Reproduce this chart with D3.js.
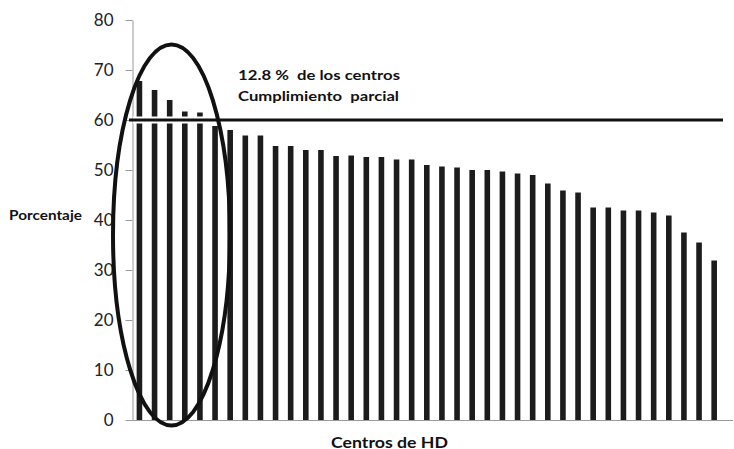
<!DOCTYPE html>
<html>
<head>
<meta charset="utf-8">
<script src="https://cdn.jsdelivr.net/npm/d3@7"></script>
<style>
  body { margin: 0; background: #fff; }
  svg { display: block; }
  text { white-space: pre; }
</style>
</head>
<body>
<div id="chart"></div>
<script>
// porcentaje por centro de HD, ordenado de mayor a menor
const centros = d3.range(1, 40).map(i => "C" + i);
const porcentaje = [
  67.8, 66.0, 64.0, 61.7, 61.5, 58.8, 58.0, 56.9, 56.9, 54.8,
  54.8, 54.0, 54.0, 52.8, 52.9, 52.6, 52.6, 52.1, 52.1, 51.0,
  50.7, 50.5, 50.0, 50.0, 49.7, 49.3, 49.0, 47.3, 45.9, 45.5,
  42.5, 42.5, 41.9, 41.9, 41.5, 40.9, 37.5, 35.5, 31.9
];
const yTicks = [0, 10, 20, 30, 40, 50, 60, 70, 80];
const umbral = 60;
const nota = ["12.8 %  de los centros", "Cumplimiento  parcial"];

const width = 734, height = 449;

const svg = d3.select("#chart").append("svg")
  .attr("width", width)
  .attr("height", height);

const x = d3.scaleBand()
  .domain(centros)
  .range([133, 720.6])
  .paddingInner(0.63)
  .paddingOuter(0.24);

const y = d3.scaleLinear()
  .domain([0, 80])
  .range([420, 20]);

// eje Y
const yAxis = svg.append("g")
  .attr("transform", "translate(132.5,0)")
  .call(d3.axisLeft(y).tickValues(yTicks).tickSize(7).tickSizeOuter(0).tickPadding(12));
yAxis.select(".domain").attr("stroke", "#9a9a9a");
yAxis.selectAll(".tick line").attr("stroke", "#9a9a9a");
yAxis.selectAll(".tick text")
  .attr("fill", "#222")
  .style("font-family", "Lato, sans-serif")
  .style("font-size", "17px");

// barras
svg.append("g")
  .selectAll("rect")
  .data(porcentaje)
  .enter().append("rect")
  .attr("x", (d, i) => x(centros[i]))
  .attr("y", d => y(d))
  .attr("width", x.bandwidth())
  .attr("height", d => y(0) - y(d))
  .attr("fill", "#1c1c1c");

// eje X (solo la linea base)
svg.append("line")
  .attr("x1", 132.5).attr("x2", 733)
  .attr("y1", y(0) + 0.5).attr("y2", y(0) + 0.5)
  .attr("stroke", "#9a9a9a");

// linea del 60 %, con un borde blanco sobre las barras
svg.append("line")
  .attr("x1", 133).attr("x2", 723)
  .attr("y1", y(umbral)).attr("y2", y(umbral))
  .attr("stroke", "#fff")
  .attr("stroke-width", 7);
svg.append("line")
  .attr("x1", 129).attr("x2", 723)
  .attr("y1", y(umbral)).attr("y2", y(umbral))
  .attr("stroke", "#111")
  .attr("stroke-width", 3);

// elipse que marca los centros sobre el umbral
svg.append("ellipse")
  .attr("cx", 171.5)
  .attr("cy", 235)
  .attr("rx", 58.5)
  .attr("ry", 190.5)
  .attr("fill", "none")
  .attr("stroke", "#111")
  .attr("stroke-width", 4);

// anotacion
svg.append("g")
  .selectAll("text")
  .data(nota)
  .enter().append("text")
  .attr("x", 238)
  .attr("y", (d, i) => 79.5 + i * 21.5)
  .attr("textLength", (d, i) => i === 0 ? 162 : 161)
  .attr("lengthAdjust", "spacingAndGlyphs")
  .style("font-family", "Lato, sans-serif")
  .style("font-weight", "bold")
  .style("font-size", "14px")
  .attr("fill", "#111")
  .text(d => d);

// titulos de ejes
svg.append("text")
  .attr("x", 9)
  .attr("y", 220)
  .attr("textLength", 73)
  .attr("lengthAdjust", "spacingAndGlyphs")
  .style("font-family", "Lato, sans-serif")
  .style("font-weight", "bold")
  .style("font-size", "13px")
  .attr("fill", "#111")
  .text("Porcentaje");

svg.append("text")
  .attr("x", 389.5)
  .attr("y", 447.5)
  .attr("text-anchor", "middle")
  .attr("textLength", 117)
  .attr("lengthAdjust", "spacingAndGlyphs")
  .style("font-family", "Lato, sans-serif")
  .style("font-weight", "bold")
  .style("font-size", "16px")
  .attr("fill", "#111")
  .text("Centros de HD");
</script>
</body>
</html>
